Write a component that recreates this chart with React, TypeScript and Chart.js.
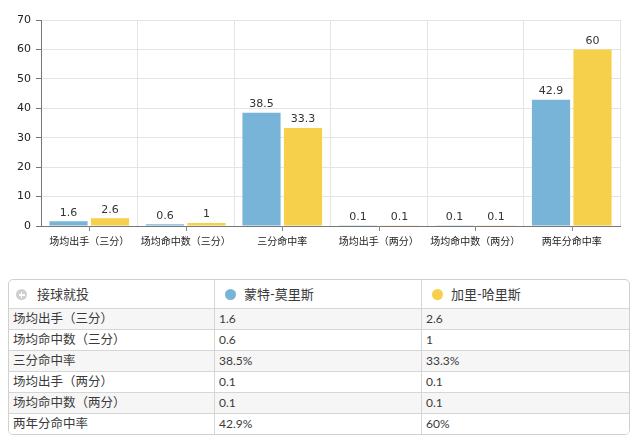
import React, { useEffect, useRef } from "react";
import { Chart, registerables } from "chart.js";

Chart.register(...registerables);

const categories = ["场均出手（三分）", "场均命中数（三分）", "三分命中率", "场均出手（两分）", "场均命中数（两分）", "两年分命中率"];
const seriesNames = ["蒙特-莫里斯", "加里-哈里斯"];
const morrisValues = [1.6, 0.6, 38.5, 0.1, 0.1, 42.9];
const harrisValues = [2.6, 1, 33.3, 0.1, 0.1, 60];
const morrisText = ["1.6", "0.6", "38.5%", "0.1", "0.1", "42.9%"];
const harrisText = ["2.6", "1", "33.3%", "0.1", "0.1", "60%"];
const yTicks = [0, 10, 20, 30, 40, 50, 60, 70];
const tableTitle = "接球就投";

const BLUE = "#78b4d7";
const YELLOW = "#f6d04b";
const CHART_FONT = '"DejaVu Sans", "Noto Sans CJK SC", sans-serif';
const TABLE_FONT = 'Lato, "Noto Sans CJK SC", sans-serif';

const valueLabels = {
  id: "valueLabels",
  afterDatasetsDraw(chart: any) {
    const ctx = chart.ctx;
    ctx.save();
    ctx.font = "11px " + CHART_FONT;
    ctx.fillStyle = "#333";
    ctx.textAlign = "center";
    ctx.textBaseline = "bottom";
    chart.data.datasets.forEach((ds: any, di: number) => {
      const meta = chart.getDatasetMeta(di);
      meta.data.forEach((bar: any, i: number) => {
        ctx.fillText(String(ds.data[i]), bar.x, bar.y - 3);
      });
    });
    ctx.restore();
  },
};

const centerTicks = {
  id: "centerTicks",
  afterDraw(chart: any) {
    const ctx = chart.ctx;
    const xs = chart.scales.x;
    const bottom = chart.chartArea.bottom;
    ctx.save();
    ctx.strokeStyle = "#888";
    ctx.lineWidth = 1;
    for (let i = 0; i < categories.length; i++) {
      const x = Math.round(xs.getPixelForValue(i)) + 0.5;
      ctx.beginPath();
      ctx.moveTo(x, bottom);
      ctx.lineTo(x, bottom + 5);
      ctx.stroke();
    }
    ctx.restore();
  },
};

function BarChart() {
  const ref = useRef<HTMLCanvasElement>(null);
  useEffect(() => {
    const chart = new Chart(ref.current as HTMLCanvasElement, {
      type: "bar",
      data: {
        labels: categories,
        datasets: [
          { label: seriesNames[0], data: morrisValues, backgroundColor: BLUE, categoryPercentage: 0.86, barPercentage: 0.92 },
          { label: seriesNames[1], data: harrisValues, backgroundColor: YELLOW, categoryPercentage: 0.86, barPercentage: 0.92 },
        ],
      },
      options: {
        responsive: false,
        animation: false,
        layout: { padding: { top: 20, right: 20, left: 0, bottom: 0 } },
        plugins: { legend: { display: false }, tooltip: { enabled: false } },
        scales: {
          x: {
            grid: { color: "#e4e4e4", drawTicks: false, offset: true },
            border: { color: "#777", width: 1 },
            ticks: { color: "#222", font: { family: CHART_FONT, size: 10 }, padding: 10, maxRotation: 0, autoSkip: false },
            afterFit: (s: any) => { s.height = 34; },
          },
          y: {
            min: 0,
            max: 70,
            afterBuildTicks: (s: any) => { s.ticks = yTicks.map((v) => ({ value: v })); },
            grid: { color: "#e4e4e4", tickColor: "#777", tickLength: 5 },
            border: { color: "#777", width: 1 },
            ticks: { color: "#222", font: { family: CHART_FONT, size: 11 }, padding: 5 },
            afterFit: (s: any) => { s.width = 41; },
          },
        },
      },
      plugins: [valueLabels, centerTicks],
    } as any);
    return () => chart.destroy();
  }, []);
  return <canvas ref={ref} width={640} height={260} style={{ display: "block" }} />;
}

function Dot({ color }: { color: string }) {
  return (
    <span style={{ display: "inline-block", width: 11, height: 11, borderRadius: "50%", background: color, verticalAlign: "-1px", marginRight: 8 }} />
  );
}

function PlusIcon() {
  return (
    <span style={{ display: "inline-block", width: 11, height: 11, borderRadius: "50%", background: "#cfcfcf", position: "relative", verticalAlign: "-1px", marginRight: 10 }}>
      <span style={{ position: "absolute", left: 2.5, top: 5, width: 6, height: 1.5, background: "#fff" }} />
      <span style={{ position: "absolute", left: 4.75, top: 2.75, width: 1.5, height: 6, background: "#fff" }} />
    </span>
  );
}

function DataTable() {
  const cellBase: React.CSSProperties = {
    padding: "0 4px",
    height: 20,
    lineHeight: "20px",
    borderTop: "1px solid #d6d6d6",
    whiteSpace: "nowrap",
    overflow: "hidden",
    textAlign: "left",
  };
  const vline = "1px solid #d6d6d6";
  return (
    <div style={{ position: "absolute", left: 8, top: 279, width: 620, border: "1px solid #d0d0d0", borderRadius: 5, overflow: "hidden", background: "#fff" }}>
      <table style={{ borderCollapse: "separate", borderSpacing: 0, width: "100%", tableLayout: "fixed", fontFamily: TABLE_FONT, fontSize: 12, color: "#3a3a3a" }}>
        <colgroup>
          <col style={{ width: 205 }} />
          <col style={{ width: 207 }} />
          <col />
        </colgroup>
        <thead>
          <tr>
            <th style={{ ...cellBase, borderTop: "none", height: 28, lineHeight: "28px", fontWeight: "normal", paddingLeft: 7, fontSize: 13 }}>
              <PlusIcon />
              {tableTitle}
            </th>
            <th style={{ ...cellBase, borderTop: "none", height: 28, lineHeight: "28px", fontWeight: "normal", borderLeft: vline, paddingLeft: 10, fontSize: 13 }}>
              <Dot color={BLUE} />
              {seriesNames[0]}
            </th>
            <th style={{ ...cellBase, borderTop: "none", height: 28, lineHeight: "28px", fontWeight: "normal", borderLeft: vline, paddingLeft: 10, fontSize: 13 }}>
              <Dot color={YELLOW} />
              {seriesNames[1]}
            </th>
          </tr>
        </thead>
        <tbody>
          {categories.map((c, i) => {
            const bg = i % 2 === 0 ? "#f6f6f6" : "#fff";
            return (
              <tr key={c} style={{ background: bg }}>
                <td style={{ ...cellBase, fontSize: 12.5 }}>{c}</td>
                <td style={{ ...cellBase, borderLeft: vline }}>{morrisText[i]}</td>
                <td style={{ ...cellBase, borderLeft: vline }}>{harrisText[i]}</td>
              </tr>
            );
          })}
        </tbody>
      </table>
    </div>
  );
}

export default function App() {
  return (
    <div style={{ position: "absolute", left: 0, top: 0, width: 640, height: 445, background: "#fff", overflow: "hidden" }}>
      <BarChart />
      <DataTable />
    </div>
  );
}
